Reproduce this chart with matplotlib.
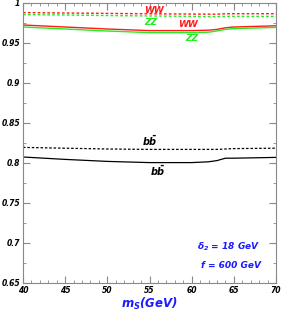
import numpy as np
import matplotlib.pyplot as plt
from matplotlib.ticker import MultipleLocator, FuncFormatter

plt.rcParams['mathtext.fontset'] = 'custom'
plt.rcParams['mathtext.it'] = 'DejaVu Sans:bold:italic'
plt.rcParams['mathtext.rm'] = 'DejaVu Sans:bold:italic'

mS = [40, 45, 50, 55, 60, 62, 63, 64, 65, 70]

ww_dash = [0.988, 0.9875, 0.987, 0.9865, 0.9862, 0.986, 0.986, 0.9865, 0.9866, 0.9866]
zz_dash = [0.9855, 0.985, 0.9843, 0.9838, 0.9833, 0.983, 0.983, 0.9833, 0.9833, 0.9832]
ww_solid = [0.9725, 0.970, 0.9675, 0.9655, 0.9655, 0.966, 0.967, 0.969, 0.970, 0.9715]
zz_solid = [0.970, 0.9675, 0.965, 0.963, 0.963, 0.9635, 0.965, 0.967, 0.968, 0.9695]
bb_dash = [0.8195, 0.8185, 0.8175, 0.817, 0.817, 0.817, 0.817, 0.8175, 0.818, 0.8185]
bb_solid = [0.8075, 0.8045, 0.802, 0.8005, 0.8005, 0.8015, 0.803, 0.806, 0.806, 0.807]

red = '#ff1a1a'
green = '#22ee22'
blue = '#1a1aff'

fig = plt.figure(figsize=(2.81, 3.11), dpi=100)
ax = fig.add_axes([23/281, 28/311, 253/281, 280/311])

ax.plot(mS, ww_dash, color=red, lw=1.0, dashes=[2, 1.5])
ax.plot(mS, zz_dash, color=green, lw=1.0, dashes=[2, 1.5])
ax.plot(mS, ww_solid, color=red, lw=1.0)
ax.plot(mS, zz_solid, color=green, lw=1.0)
ax.plot(mS, bb_dash, color='black', lw=0.9, dashes=[2, 1.5])
ax.plot(mS, bb_solid, color='black', lw=0.9)

ax.set_xlim(40, 70)
ax.set_ylim(0.65, 1.0)
ax.xaxis.set_major_locator(MultipleLocator(5))
ax.xaxis.set_minor_locator(MultipleLocator(1))
ax.yaxis.set_major_locator(MultipleLocator(0.05))
ax.yaxis.set_minor_locator(MultipleLocator(0.025))
ax.yaxis.set_major_formatter(FuncFormatter(lambda v, p: f"{v:g}"))
ax.tick_params(which='both', direction='in', top=True, right=True, color='#888888')
ax.tick_params(which='major', length=5, labelsize=5.5, pad=2)
ax.tick_params(which='minor', length=2.5)
for lab in ax.get_xticklabels() + ax.get_yticklabels():
    lab.set_fontweight('bold')
    lab.set_fontstyle('italic')
for s in ax.spines.values():
    s.set_color('#888888')

tk = dict(fontsize=6.5, fontweight='bold', fontstyle='italic')
ax.text(55.5, 0.9905, 'WW', color=red, ha='center', va='center', **tk)
ax.text(55.2, 0.9755, 'ZZ', color=green, ha='center', va='center', **tk)
ax.text(59.5, 0.9735, 'WW', color=red, ha='center', va='center', **tk)
ax.text(60.0, 0.9555, 'ZZ', color=green, ha='center', va='center', **tk)
ax.text(55.0, 0.8275, r'$b\bar{b}$', color='black', ha='center', va='center', fontsize=7)
ax.text(56.0, 0.7905, r'$b\bar{b}$', color='black', ha='center', va='center', fontsize=7)

ax.text(68.2, 0.6955, r'$\delta_2$ = 18 GeV', color=blue, ha='right', va='center', **tk)
ax.text(68.2, 0.6725, 'f = 600 GeV', color=blue, ha='right', va='center', **tk)

ax.set_xlabel(r'$m_S$(GeV)', color=blue, fontsize=8.5, fontweight='bold',
              fontstyle='italic', labelpad=1)

fig.savefig('out.png', dpi=100)
